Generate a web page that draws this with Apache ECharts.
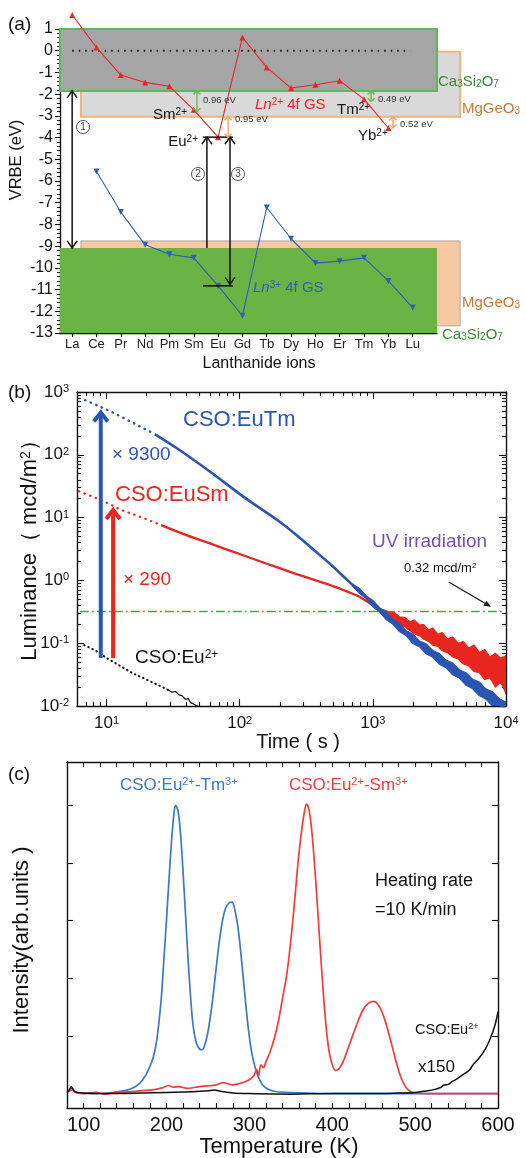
<!DOCTYPE html>
<html>
<head>
<meta charset="utf-8">
<script src="https://cdn.jsdelivr.net/npm/echarts@6.0.0/dist/echarts.min.js"></script>
<style>
html,body{margin:0;padding:0;background:#fff;}
#chart{width:526px;height:1158px;}
</style>
</head>
<body>
<div id="chart"></div>
<script>
// ---------------- Panel (a): VRBE diagram ----------------
const lanthanides = ['La','Ce','Pr','Nd','Pm','Sm','Eu','Gd','Tb','Dy','Ho','Er','Tm','Yb','Lu'];
const vrbeLn2 = [1.65, 0.15, -1.12, -1.46, -1.64, -2.72, -3.98, 0.61, -0.77, -1.72, -1.57, -1.38, -2.23, -3.56, null];
const vrbeLn3 = [null, -5.56, -7.43, -8.94, -9.37, -9.54, -10.83, -12.2, -7.22, -8.66, -9.78, -9.69, -9.54, -10.6, -11.83];
const vrbeTicks = [1, 0, -1, -2, -3, -4, -5, -6, -7, -8, -9, -10, -11, -12, -13];
// host bands: MgGeO3 CB, Ca3Si2O7 CB, MgGeO3 VB, Ca3Si2O7 VB (eV, x in lanthanide index units)
const bandNames = ['MgGeO3 CB', 'Ca3Si2O7 CB', 'MgGeO3 VB', 'Ca3Si2O7 VB'];
const bandTop = [-0.05, 1.0, -8.76, -9.08];
const bandBottom = [-3.04, -1.85, -12.67, -13];
const bandFrom = [0.36, -0.5, 0.36, -0.5];
const bandTo = [15.95, 15, 15.95, 15];
const vacuumSpan = [0, 13.9];
// transitions 1,2,3
const transX = [0, 5.54, 6.49];
const transFrom = [-1.85, -9.08, -3.98];
const transTo = [-9.08, -3.98, -10.75];
// trap depth arrows
const gapX = [5.13, 6.41, 12.29, 13.19];
const gapFrom = [-1.85, -3.04, -1.85, -3.04];
const gapTo = [-2.81, -3.99, -2.34, -3.56];
const gapLabels = ['0.96 eV', '0.95 eV', '0.49 eV', '0.52 eV'];
// Eu levels
const euLevelSpan = [5.38, 6.61];
const euLevels = [-3.98, -10.83];

// ---------------- Panel (b): afterglow decay ----------------
const euTmDotT = [6.9, 9.1, 11, 14.5, 19, 23];
const euTmDotL = [741, 575, 479, 355, 263, 214];
const euTmT = [23, 34, 60, 107, 195, 275, 363, 490, 646, 870, 1150, 1550, 2040, 2750, 3630, 4900, 6460, 8710, 10000];
const euTmL = [214, 126, 53.7, 21.4, 8.91, 5.01, 3.02, 1.74, 1.0, 0.562, 0.324, 0.186, 0.112, 0.0708, 0.0447, 0.0282, 0.0178, 0.011, 0.0089];
const euTmBandT = [708, 794, 891, 1000, 1122, 1259, 1413, 1585, 1778, 1995, 2239, 2512, 2818, 3162, 3548, 3981, 4467, 5012, 5623, 6310, 7079, 7943, 8913, 10000];
const euTmBandHi = [0.871, 0.741, 0.569, 0.479, 0.367, 0.313, 0.240, 0.207, 0.158, 0.140, 0.108, 0.0977, 0.0767, 0.0684, 0.0537, 0.0484, 0.0376, 0.0339, 0.0266, 0.0240, 0.0186, 0.0168, 0.0130, 0.0115];
const euTmBandLo = [0.794, 0.624, 0.513, 0.380, 0.316, 0.237, 0.200, 0.153, 0.132, 0.0989, 0.0881, 0.0676, 0.0596, 0.0462, 0.0407, 0.0313, 0.0279, 0.0214, 0.0188, 0.0146, 0.0129, 0.00989, 0.00871, 0.00692];

const euSmDotT = [6.2, 7.9, 10.2, 12.9, 19.1, 25.7];
const euSmDotL = [26.3, 21.4, 17.0, 13.2, 9.77, 7.59];
const euSmT = [25.7, 39.8, 63.1, 100, 158, 251, 363, 501, 646, 794, 955, 1202];
const euSmL = [7.59, 5.25, 3.72, 2.63, 1.86, 1.32, 1.02, 0.813, 0.661, 0.550, 0.427, 0.316];
const euSmBandT = [1202, 1318, 1445, 1585, 1738, 1905, 2042, 2239, 2399, 2630, 2818, 3090, 3311, 3631, 3981, 4365, 4786, 5248, 5754, 6310, 6918, 7586, 8318, 9120, 10000];
const euSmBandHi = [0.339, 0.316, 0.309, 0.263, 0.257, 0.219, 0.234, 0.195, 0.200, 0.162, 0.174, 0.138, 0.148, 0.117, 0.126, 0.100, 0.107, 0.0832, 0.0933, 0.0708, 0.0794, 0.0603, 0.0692, 0.0575, 0.0631];
const euSmBandLo = [0.295, 0.251, 0.229, 0.200, 0.182, 0.158, 0.141, 0.132, 0.117, 0.107, 0.0933, 0.0891, 0.0759, 0.0708, 0.0603, 0.0562, 0.0468, 0.0437, 0.0355, 0.0339, 0.0263, 0.0282, 0.0200, 0.0240, 0.0158];

const euDotT = [6.8, 8.3, 10.1, 12.6, 15.8, 20.0, 25.7, 28.8];
const euDotL = [0.0933, 0.0759, 0.0575, 0.0437, 0.0331, 0.0263, 0.0204, 0.0182];
const euT = [28.8, 31, 33, 35, 37, 39, 41, 43, 45, 47, 49];
const euL = [0.0182, 0.0166, 0.0170, 0.0150, 0.0145, 0.0128, 0.0131, 0.0112, 0.0108, 0.0102, 0.0099];

const uvLevel = 0.32;
const uvSpan = [6.3, 9700];
const boostT = [9.05, 11.2];
const boostFrom = [0.058, 0.058];
const boostTo = [470, 13.2];
const noteFrom = [3715, 0.944];
const noteTo = [7709, 0.38];
const timeDecades = [1, 2, 3, 4];
const lumDecades = [-2, -1, 0, 1, 2, 3];

// ---------------- Panel (c): thermoluminescence ----------------
const tmTemp = [80,83,86,89,95,110,130,150,160,168,175,180,184,188,191,194,197,200,203,206,209,211,214,217,220,223,226,229,232,236,240,243,247,251,255,259,263,267,271,275,279,283,287,291,295,299,303,307,311,316,322,330,345,370,400,500,600];
const tmInt  = [0.02,0.06,0.10,0.04,0.01,0.0,0.01,0.05,0.10,0.18,0.32,0.47,0.62,0.90,1.25,1.70,2.35,3.0,3.7,4.35,4.85,5.0,4.9,4.5,3.85,3.1,2.35,1.7,1.2,0.88,0.77,0.76,0.88,1.15,1.55,2.05,2.55,2.95,3.2,3.3,3.32,3.15,2.8,2.25,1.65,1.1,0.7,0.45,0.28,0.15,0.08,0.04,0.02,0.01,0.0,0.0,0.0];
const smTemp = [80,86,92,100,115,125,140,155,170,185,195,203,208,215,225,235,245,255,262,268,274,280,287,294,300,305,309,311,314,317,320,325,330,335,340,345,350,355,359,363,366,369,372,375,378,381,384,387,390,393,396,400,404,408,413,419,425,431,437,443,449,453,458,463,468,473,478,483,488,493,500,520,600];
const smInt  = [0.02,0.06,0.01,0.0,0.02,-0.01,0.02,0.03,0.05,0.07,0.10,0.14,0.11,0.12,0.09,0.11,0.13,0.14,0.16,0.19,0.17,0.15,0.17,0.20,0.24,0.30,0.42,0.30,0.50,0.45,0.55,0.72,0.95,1.25,1.65,2.05,2.65,3.4,4.05,4.55,4.85,5.02,4.92,4.6,4.1,3.5,2.85,2.2,1.6,1.1,0.75,0.5,0.4,0.43,0.55,0.78,1.02,1.25,1.45,1.56,1.6,1.58,1.48,1.3,1.05,0.78,0.5,0.28,0.13,0.05,0.01,0.0,0.0];
const euTemp = [80,83,85,87,90,100,130,170,200,230,250,258,265,280,300,350,400,450,480,500,510,520,530,535,540,545,550,560,565,570,578,585,590,594,597,600];
const euInt  = [0.02,0.07,0.12,0.08,0.03,0.01,0.0,0.01,0.02,0.03,0.05,0.06,0.04,0.01,0.0,-0.01,0.0,0.0,0.01,0.02,0.04,0.06,0.10,0.15,0.16,0.21,0.25,0.35,0.40,0.50,0.63,0.78,0.93,1.08,1.22,1.42];
const tempLabels = [100, 200, 300, 400, 500, 600];

// ---------------- helpers ----------------
const FONT = '"Liberation Sans", Arial, Helvetica, sans-serif';
const lg = Math.log10;
const logPairs = (ts, ls) => ts.map((t, i) => [lg(t), lg(ls[i])]);
const pairs = (xs, ys) => xs.map((x, i) => [x, ys[i]]);

const RED_A = '#e8262a', BLUE_A = '#2f5fb8';
const BLUE_B = '#2b55b3', RED_B = '#e8261f';
const BLUE_C = '#3b79c3', RED_C = '#f23d3d';
const INK = '#111';

const transHeads = [[1, 1], [0, 1], [1, 1]];
const gapColors = ['#6cbf4a', '#f2a65a', '#6cbf4a', '#f2a65a'];
const bandStyles = [
  {fill: '#d9d9d9', stroke: '#f3b27a', lw: 2},
  {fill: '#a5a5a5', stroke: '#5cb85c', lw: 2},
  {fill: '#f7c9a2', stroke: '#a8a8a8', lw: 1},
  {fill: '#6bb344', stroke: '#6bb344', lw: 0}
];

function chevron(tip, dir, hw, hh) {
  return [[tip[0] - hw, tip[1] - dir * hh], [tip[0], tip[1]], [tip[0] + hw, tip[1] - dir * hh]];
}
function arrowGroup(api, x, y0, y1, h0, h1, color, lw, hw, hh) {
  const p0 = api.coord([x, y0]), p1 = api.coord([x, y1]);
  const ch = [{type: 'line', shape: {x1: p0[0], y1: p0[1], x2: p1[0], y2: p1[1]}, style: {stroke: color, lineWidth: lw}}];
  const d = Math.sign(p1[1] - p0[1]);
  if (h1) ch.push({type: 'polyline', shape: {points: chevron(p1, d, hw, hh)}, style: {stroke: color, lineWidth: lw, fill: null, lineJoin: 'miter'}});
  if (h0) ch.push({type: 'polyline', shape: {points: chevron(p0, -d, hw, hh)}, style: {stroke: color, lineWidth: lw, fill: null, lineJoin: 'miter'}});
  return {type: 'group', children: ch};
}
function slantArrow(api, a, b, color) {
  const p0 = api.coord(a), p1 = api.coord(b);
  const ang = Math.atan2(p1[1] - p0[1], p1[0] - p0[0]);
  const L = 7, W = 3;
  const bx = p1[0] - L * Math.cos(ang), by = p1[1] - L * Math.sin(ang);
  const px = -Math.sin(ang) * W, py = Math.cos(ang) * W;
  return {type: 'group', children: [
    {type: 'line', shape: {x1: p0[0], y1: p0[1], x2: bx, y2: by}, style: {stroke: color, lineWidth: 1.2}},
    {type: 'polygon', shape: {points: [[p1[0], p1[1]], [bx + px, by + py], [bx - px, by - py]]}, style: {fill: color}}
  ]};
}
function bandSeries(ts, hi, lo, color) {
  return {
    type: 'custom', xAxisIndex: 1, yAxisIndex: 1, clip: true, z: 4, silent: true,
    data: [[lg(ts[0]), lg(hi[0])]],
    renderItem: (params, api) => {
      const pts = [];
      ts.forEach((t, i) => pts.push(api.coord([lg(t), lg(hi[i])])));
      for (let i = ts.length - 1; i >= 0; i--) pts.push(api.coord([lg(ts[i]), lg(lo[i])]));
      return {type: 'polygon', shape: {points: pts}, style: {fill: color, stroke: color, lineWidth: 1.2}};
    }
  };
}

// tick positions (log axes of panel b)
const minorX = [];
for (let e = 0; e < 4; e++) for (let k = 2; k < 10; k++) { const v = e + lg(k); if (v > lg(6) + 1e-6) minorX.push(v); }
const minorY = [];
for (let e = -2; e < 3; e++) for (let k = 2; k < 10; k++) minorY.push(e + lg(k));
const tempTicks = [];
for (let t = 100; t <= 600; t += 20) tempTicks.push(t);

const AXL = {show: true, onZero: false, lineStyle: {color: INK, width: 1.4}};
const NOAXL = {show: false, onZero: false};
const NOSPLIT = {show: false};
const tickStyle = {color: INK, width: 1.1};
const supRich = (size) => ({
  b: {fontSize: size, fontFamily: FONT, color: INK},
  s: {fontSize: Math.round(size * 0.65), fontFamily: FONT, color: INK, verticalAlign: 'top'}
});
const decadeFmt = v => `{b|10}{s|${Math.round(v)}}`;

function bX(pos, major) {
  return {type: 'value', gridIndex: 1, position: pos, min: lg(6), max: 4,
    axisLine: major ? AXL : NOAXL, splitLine: NOSPLIT,
    axisTick: {show: true, inside: true, length: major ? 7 : 4, customValues: major ? timeDecades : minorX, lineStyle: tickStyle},
    axisLabel: (major && pos === 'bottom') ? {show: true, customValues: timeDecades, formatter: decadeFmt, margin: 9, rich: supRich(17)} : {show: false}};
}
function bY(pos, major) {
  return {type: 'value', gridIndex: 1, position: pos, min: -2, max: 3,
    axisLine: major ? AXL : NOAXL, splitLine: NOSPLIT,
    axisTick: {show: true, inside: true, length: major ? 7 : 4, customValues: major ? lumDecades : minorY, lineStyle: tickStyle},
    axisLabel: (major && pos === 'left') ? {show: true, customValues: lumDecades, formatter: decadeFmt, margin: 8, rich: supRich(17)} : {show: false}};
}
function cX(pos) {
  return {type: 'value', gridIndex: 2, position: pos, min: 80, max: 600,
    axisLine: AXL, splitLine: NOSPLIT,
    axisTick: {show: true, inside: true, length: 5, customValues: tempTicks, lineStyle: tickStyle},
    axisLabel: pos === 'bottom' ? {show: true, customValues: tempLabels, fontSize: 20, fontFamily: FONT, color: INK, margin: 7} : {show: false}};
}
function cY(pos) {
  return {type: 'value', gridIndex: 2, position: pos, min: -0.25, max: 5.75,
    axisLine: AXL, splitLine: NOSPLIT,
    axisTick: {show: true, inside: true, length: 6, customValues: [1, 2, 3, 4, 5], lineStyle: tickStyle},
    axisLabel: {show: false}};
}

// ---------------- texts ----------------
const graphics = [];
function T(x, y, text, size, color, o) {
  o = o || {};
  const c = color || INK;
  graphics.push({type: 'text', x: x, y: y, rotation: o.rot || 0, z: 50, silent: true,
    style: {text: text, fontSize: size, fontFamily: FONT, fill: c,
      align: o.align || 'left', verticalAlign: 'middle', textAlign: o.align || 'left', textVerticalAlign: 'middle',
      fontStyle: 'normal',
      rich: {
        sup: {fontSize: Math.round(size * 0.64), fontFamily: FONT, fill: c, verticalAlign: 'top'},
        sub: {fontSize: Math.round(size * 0.64), fontFamily: FONT, fill: c, verticalAlign: 'bottom'},
        it: {fontSize: size, fontFamily: FONT, fill: c, fontStyle: 'italic'}
      }}});
}
function circ(cx, cy, n) {
  graphics.push({type: 'circle', z: 49, silent: true, shape: {cx: cx, cy: cy, r: 6.5}, style: {fill: '#fff', stroke: '#555', lineWidth: 1}});
  T(cx, cy + 0.5, n, 10, '#444', {align: 'center'});
}
// (a)
T(8, 25, '(a)', 19);
T(16, 160, 'VRBE (eV)', 16.5, INK, {rot: Math.PI / 2, align: 'center'});
T(259, 364, 'Lanthanide ions', 16, INK, {align: 'center'});
T(187, 115, 'Sm{sup|2+}', 15, INK, {align: 'right'});
T(198, 142, 'Eu{sup|2+}', 15, INK, {align: 'right'});
T(255, 105, '{it|Ln}{sup|2+} 4f GS', 15, RED_A);
T(337, 110, 'Tm{sup|2+}', 15);
T(358, 136, 'Yb{sup|2+}', 15);
T(203, 100, gapLabels[0], 9.5, '#333');
T(235, 119, gapLabels[1], 9.5, '#333');
T(378, 99, gapLabels[2], 9.5, '#333');
T(400, 124, gapLabels[3], 9.5, '#333');
T(438, 82, 'Ca{sub|3}Si{sub|2}O{sub|7}', 15, '#3a8a34');
T(462, 109, 'MgGeO{sub|3}', 15, '#c9793b');
T(462, 303, 'MgGeO{sub|3}', 15, '#c9793b');
T(442, 335, 'Ca{sub|3}Si{sub|2}O{sub|7}', 15, '#3a8a34');
T(253, 288, '{it|Ln}{sup|3+} 4f GS', 15, BLUE_A);
circ(83, 127, '1');
circ(198, 174, '2');
circ(238, 174, '3');
// (b)
T(8, 393, '(b)', 19);
T(30, 545, 'Luminance（ mcd/m{sup|2}）', 22, INK, {rot: Math.PI / 2, align: 'center'});
T(298, 742, 'Time ( s )', 20, INK, {align: 'center'});
T(183, 420, 'CSO:EuTm', 22, BLUE_B);
T(112, 455, '× 9300', 19, BLUE_B);
T(115, 495, 'CSO:EuSm', 22, RED_B);
T(123, 580, '× 290', 19, RED_B);
T(135, 658, 'CSO:Eu{sup|2+}', 19, INK);
T(372, 542, 'UV irradiation', 19, '#7a4fae');
T(404, 568, '0.32 mcd/m{sup|2}', 13, INK);
// (c)
T(8, 775, '(c)', 19);
T(120, 785, 'CSO:Eu{sup|2+}-Tm{sup|3+}', 17, BLUE_C);
T(289, 785, 'CSO:Eu{sup|2+}-Sm{sup|3+}', 17, RED_C);
T(375, 881, 'Heating rate', 18);
T(375, 910, '=10 K/min', 18);
T(415, 1030, 'CSO:Eu{sup|2+}', 14.5);
T(418, 1067, 'x150', 17);
T(22, 940, 'Intensity(arb.units )', 22, INK, {rot: Math.PI / 2, align: 'center'});
T(279, 1147, 'Temperature (K)', 22, INK, {align: 'center'});

// ---------------- option ----------------
const option = {
  animation: false,
  backgroundColor: '#fff',
  textStyle: {fontFamily: FONT},
  grid: [
    {left: 60, top: 29, width: 377, height: 304},
    {left: 77, top: 392, width: 429, height: 314},
    {left: 67, top: 762, width: 431, height: 346}
  ],
  xAxis: [
    {type: 'value', gridIndex: 0, position: 'bottom', min: -0.5, max: 15,
      axisLine: AXL, splitLine: NOSPLIT,
      axisTick: {show: true, inside: false, length: 4, customValues: lanthanides.map((n, i) => i), lineStyle: tickStyle},
      axisLabel: {show: true, customValues: lanthanides.map((n, i) => i), formatter: v => lanthanides[Math.round(v)], fontSize: 13, fontFamily: FONT, color: '#222', margin: 5, hideOverlap: false}},
    bX('bottom', true), bX('bottom', false), bX('top', true), bX('top', false),
    cX('bottom'), cX('top')
  ],
  yAxis: [
    {type: 'value', gridIndex: 0, position: 'left', min: -13, max: 1, interval: 1,
      axisLine: AXL, splitLine: NOSPLIT,
      axisTick: {show: true, inside: false, length: 5, lineStyle: tickStyle},
      minorTick: {show: true, splitNumber: 5, length: 3, lineStyle: {color: INK, width: 1}},
      axisLabel: {show: true, fontSize: 16, fontFamily: FONT, color: INK, margin: 7}},
    bY('left', true), bY('left', false), bY('right', true), bY('right', false),
    cY('left'), cY('right')
  ],
  series: [
    // ---- (a)
    {type: 'custom', name: 'host bands', xAxisIndex: 0, yAxisIndex: 0, clip: false, z: 1, silent: true,
      data: bandNames.map((n, i) => [bandFrom[i], bandTop[i]]),
      renderItem: (params, api) => {
        const i = params.dataIndex, s = bandStyles[i];
        const p0 = api.coord([bandFrom[i], bandTop[i]]), p1 = api.coord([bandTo[i], bandBottom[i]]);
        return {type: 'rect', shape: {x: p0[0], y: p0[1], width: p1[0] - p0[0], height: p1[1] - p0[1]},
          style: {fill: s.fill, stroke: s.lw ? s.stroke : null, lineWidth: s.lw}};
      }},
    {type: 'line', name: 'vacuum', xAxisIndex: 0, yAxisIndex: 0, z: 2, silent: true, showSymbol: false,
      data: vacuumSpan.map(x => [x, 0]), lineStyle: {color: '#111', width: 2, type: [1.5, 5]}},
    {type: 'line', name: 'Ln2+ 4f GS', xAxisIndex: 0, yAxisIndex: 0, z: 4, clip: false,
      data: lanthanides.map((n, i) => [i, vrbeLn2[i]]).filter(p => p[1] !== null),
      symbol: 'triangle', symbolSize: 6, itemStyle: {color: RED_A}, lineStyle: {color: RED_A, width: 1.1}},
    {type: 'line', name: 'Ln3+ 4f GS', xAxisIndex: 0, yAxisIndex: 0, z: 4, clip: false,
      data: lanthanides.map((n, i) => [i, vrbeLn3[i]]).filter(p => p[1] !== null),
      symbol: 'triangle', symbolRotate: 180, symbolSize: 6, itemStyle: {color: BLUE_A}, lineStyle: {color: BLUE_A, width: 1.1}},
    {type: 'custom', name: 'transitions', xAxisIndex: 0, yAxisIndex: 0, z: 5, clip: false, silent: true,
      data: transX.map((x, i) => [x, transTo[i]]),
      renderItem: (params, api) => {
        const i = params.dataIndex;
        return arrowGroup(api, transX[i], transFrom[i], transTo[i], transHeads[i][0], transHeads[i][1], '#111', 1.5, 5, 7);
      }},
    {type: 'custom', name: 'Eu levels', xAxisIndex: 0, yAxisIndex: 0, z: 5, clip: false, silent: true,
      data: euLevels.map(y => [euLevelSpan[0], y]),
      renderItem: (params, api) => {
        const y = euLevels[params.dataIndex];
        const a = api.coord([euLevelSpan[0], y]), b = api.coord([euLevelSpan[1], y]);
        return {type: 'line', shape: {x1: a[0], y1: a[1], x2: b[0], y2: b[1]}, style: {stroke: '#111', lineWidth: 1.5}};
      }},
    {type: 'custom', name: 'trap depths', xAxisIndex: 0, yAxisIndex: 0, z: 5, clip: false, silent: true,
      data: gapX.map((x, i) => [x, gapTo[i]]),
      renderItem: (params, api) => {
        const i = params.dataIndex;
        return arrowGroup(api, gapX[i], gapFrom[i], gapTo[i], 1, 1, gapColors[i], 1.4, 3.5, 3.5);
      }},
    // ---- (b)
    {type: 'line', name: 'UV level', xAxisIndex: 1, yAxisIndex: 1, z: 2, silent: true, showSymbol: false,
      data: uvSpan.map(t => [lg(t), lg(uvLevel)]), lineStyle: {color: '#45a845', width: 1.3, type: [9, 3, 2, 3]}},
    {type: 'line', name: 'CSO:EuSm dotted', xAxisIndex: 1, yAxisIndex: 1, z: 3, showSymbol: false,
      data: logPairs(euSmDotT, euSmDotL), lineStyle: {color: RED_B, width: 2.2, type: [0.5, 5.5], cap: 'round'}},
    {type: 'line', name: 'CSO:EuSm', xAxisIndex: 1, yAxisIndex: 1, z: 3, showSymbol: false, smooth: 0.3,
      data: logPairs(euSmT, euSmL), lineStyle: {color: RED_B, width: 2.3}},
    bandSeries(euSmBandT, euSmBandHi, euSmBandLo, RED_B),
    {type: 'line', name: 'CSO:EuTm dotted', xAxisIndex: 1, yAxisIndex: 1, z: 5, showSymbol: false,
      data: logPairs(euTmDotT, euTmDotL), lineStyle: {color: BLUE_B, width: 2.4, type: [0.5, 5.5], cap: 'round'}},
    {type: 'line', name: 'CSO:EuTm', xAxisIndex: 1, yAxisIndex: 1, z: 5, showSymbol: false, smooth: 0.3,
      data: logPairs(euTmT, euTmL), lineStyle: {color: BLUE_B, width: 2.6}},
    Object.assign(bandSeries(euTmBandT, euTmBandHi, euTmBandLo, BLUE_B), {z: 6}),
    {type: 'line', name: 'CSO:Eu dotted', xAxisIndex: 1, yAxisIndex: 1, z: 3, showSymbol: false,
      data: logPairs(euDotT, euDotL), lineStyle: {color: '#111', width: 2, type: [0.5, 4], cap: 'round'}},
    {type: 'line', name: 'CSO:Eu', xAxisIndex: 1, yAxisIndex: 1, z: 3, showSymbol: false,
      data: logPairs(euT, euL), lineStyle: {color: '#111', width: 1.2}},
    {type: 'custom', name: 'enhancement', xAxisIndex: 1, yAxisIndex: 1, z: 7, clip: false, silent: true,
      data: boostT.map((t, i) => [lg(t), lg(boostTo[i])]),
      renderItem: (params, api) => {
        const i = params.dataIndex;
        return arrowGroup(api, lg(boostT[i]), lg(boostFrom[i]), lg(boostTo[i]), 0, 1, i === 0 ? BLUE_B : RED_B, 4, 7, 9);
      }},
    {type: 'custom', name: 'note arrow', xAxisIndex: 1, yAxisIndex: 1, z: 7, clip: false, silent: true,
      data: [[lg(noteTo[0]), lg(noteTo[1])]],
      renderItem: (params, api) => slantArrow(api, [lg(noteFrom[0]), lg(noteFrom[1])], [lg(noteTo[0]), lg(noteTo[1])], '#111')},
    // ---- (c)
    {type: 'line', name: 'CSO:Eu2+-Tm3+', xAxisIndex: 5, yAxisIndex: 5, z: 3, showSymbol: false, smooth: 0.35,
      data: pairs(tmTemp, tmInt), lineStyle: {color: BLUE_C, width: 1.7}},
    {type: 'line', name: 'CSO:Eu2+-Sm3+', xAxisIndex: 5, yAxisIndex: 5, z: 4, showSymbol: false, smooth: 0.35,
      data: pairs(smTemp, smInt), lineStyle: {color: RED_C, width: 1.7}},
    {type: 'line', name: 'CSO:Eu2+ x150', xAxisIndex: 5, yAxisIndex: 5, z: 5, showSymbol: false, smooth: 0.3,
      data: pairs(euTemp, euInt), lineStyle: {color: '#111', width: 1.5}}
  ],
  graphic: graphics
};

const chart = echarts.init(document.getElementById('chart'), null, {renderer: 'canvas', width: 526, height: 1158});
chart.setOption(option);
</script>
</body>
</html>
